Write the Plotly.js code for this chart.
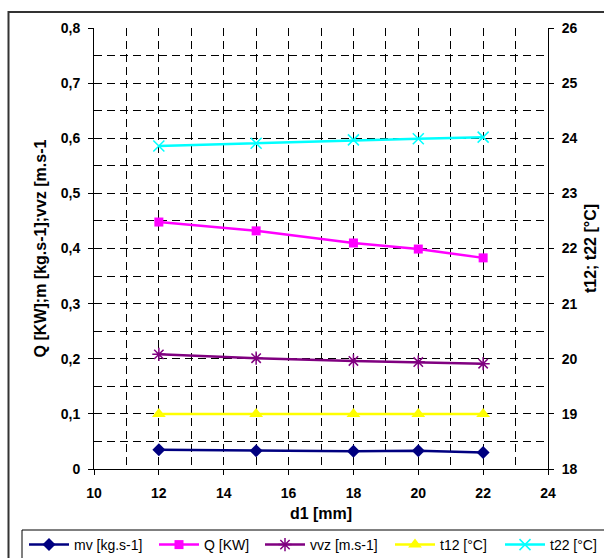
<!DOCTYPE html>
<html>
<head>
<meta charset="utf-8">
<script src="https://cdn.plot.ly/plotly-3.0.1.min.js"></script>
<style>html,body{margin:0;padding:0;background:#fff;}#chart{width:604px;height:558px;}</style>
</head>
<body>
<div id="chart"></div>
<script>
// Data
const d1 = [12, 15, 18, 20, 22];
const mv = [0.035, 0.033, 0.032, 0.033, 0.030];
const Q = [0.448, 0.432, 0.410, 0.399, 0.383];
const vvz = [0.208, 0.201, 0.196, 0.194, 0.191];
const t12 = [19, 19, 19, 19, 19];
const t22 = [23.86, 23.91, 23.97, 23.99, 24.02];
const seriesNames = ['mv [kg.s-1]', 'Q [KW]', 'vvz [m.s-1]', 't12 [°C]', 't22 [°C]'];

const FONT = '"Liberation Sans", Arial, sans-serif';
const titleFont = {family: FONT, size: 16, color: '#000', weight: 'bold'};
const tickFont = {family: FONT, size: 14, color: '#000', weight: 'bold'};

const W = 454, H = 441; // plot area size in px
const px = v => (v - 94) / W;
const py = v => (469 - v) / H;

const traces = [
  {x: d1, y: mv, name: seriesNames[0], mode: 'lines+markers', yaxis: 'y', legend: 'legend',
   line: {color: '#000080', width: 2.5}, marker: {symbol: 'diamond', size: 10, color: '#000080'}},
  {x: d1, y: Q, name: seriesNames[1], mode: 'lines+markers', yaxis: 'y', legend: 'legend2',
   line: {color: '#FF00FF', width: 2.5}, marker: {symbol: 'square', size: 9, color: '#FF00FF'}},
  {x: d1, y: vvz, name: seriesNames[2], mode: 'lines+markers', yaxis: 'y', legend: 'legend3',
   line: {color: '#800080', width: 2.5}, marker: {symbol: 'asterisk-open', size: 11, color: '#800080', line: {color: '#800080', width: 1.5}}},
  {x: d1, y: t12, name: seriesNames[3], mode: 'lines+markers', yaxis: 'y2', legend: 'legend4',
   line: {color: '#FFFF00', width: 2.5}, marker: {symbol: 'triangle-up', size: 12, color: '#FFFF00'}},
  {x: d1, y: t22, name: seriesNames[4], mode: 'lines+markers', yaxis: 'y2', legend: 'legend5',
   line: {color: '#00FFFF', width: 2.5}, marker: {symbol: 'x-thin-open', size: 11, color: '#00FFFF', line: {color: '#00FFFF', width: 1.5}}}
];

// legend entry start positions (px), matching the reference legend row
const legendStarts = [31, 161, 267, 397, 507];
function legendAt(startPx) {
  return {
    orientation: 'h', x: px(startPx - 7), y: py(545), xanchor: 'left', yanchor: 'middle',
    bgcolor: 'rgba(0,0,0,0)', borderwidth: 0,
    font: {family: FONT, size: 14, color: '#000'}, itemwidth: 40
  };
}

const grid = {gridcolor: '#000', gridwidth: 1, griddash: '8px,5px'};

const layout = {
  width: 604, height: 558,
  margin: {l: 94, r: 56, t: 28, b: 89, pad: 0, autoexpand: false},
  paper_bgcolor: '#fff', plot_bgcolor: '#fff',
  separators: ', ',
  font: {family: FONT, size: 13, color: '#000'},
  showlegend: true,
  xaxis: Object.assign({
    range: [10, 24], dtick: 2, tick0: 10,
    showline: true, linecolor: '#000', linewidth: 1,
    ticks: 'outside', ticklen: 5, tickcolor: '#000', tickwidth: 1,
    showgrid: true, zeroline: false, ticklabelstandoff: 6, tickfont: tickFont,
    minor: Object.assign({dtick: 1, showgrid: true}, grid),
    title: {text: 'd1 [mm]', font: titleFont, standoff: 8}
  }, grid),
  yaxis: Object.assign({
    range: [0, 0.8], dtick: 0.1, tick0: 0,
    showline: true, linecolor: '#000', linewidth: 1,
    ticks: 'outside', ticklen: 5, tickcolor: '#000', tickwidth: 1,
    showgrid: true, zeroline: false, ticklabelstandoff: 5, tickfont: tickFont,
    minor: Object.assign({dtick: 0.05, showgrid: true}, grid),
    title: {text: 'Q [KW];m [kg.s-1];vvz [m.s-1', font: titleFont, standoff: 10}
  }, grid),
  yaxis2: {
    overlaying: 'y', side: 'right', anchor: 'x',
    range: [18, 26], dtick: 1, tick0: 18,
    showline: true, linecolor: '#000', linewidth: 1,
    ticks: 'outside', ticklen: 5, tickcolor: '#000', tickwidth: 1,
    showgrid: false, zeroline: false, ticklabelstandoff: 5, tickfont: tickFont,
    title: {text: 't12; t22 [°C]', font: titleFont, standoff: 8}
  },
  legend: legendAt(legendStarts[0]),
  legend2: legendAt(legendStarts[1]),
  legend3: legendAt(legendStarts[2]),
  legend4: legendAt(legendStarts[3]),
  legend5: legendAt(legendStarts[4]),
  shapes: [
    {type: 'rect', xref: 'paper', yref: 'paper', x0: px(8.5), x1: px(700), y0: py(12), y1: py(700),
     line: {color: '#333', width: 2}, fillcolor: 'rgba(0,0,0,0)', layer: 'below'},
    {type: 'rect', xref: 'paper', yref: 'paper', x0: px(22), x1: px(700), y0: py(530), y1: py(700),
     line: {color: '#000', width: 1}, fillcolor: 'rgba(0,0,0,0)', layer: 'above'}
  ]
};

Plotly.newPlot('chart', traces, layout, {displayModeBar: false, staticPlot: true}).then(function () {
  // Plotly styles axis tick labels via its own font handling; make sure bold is applied
  document.querySelectorAll('.xtick text, .ytick text, .y2tick text').forEach(function (t) {
    t.style.fontWeight = 'bold';
  });
});
</script>
</body>
</html>
